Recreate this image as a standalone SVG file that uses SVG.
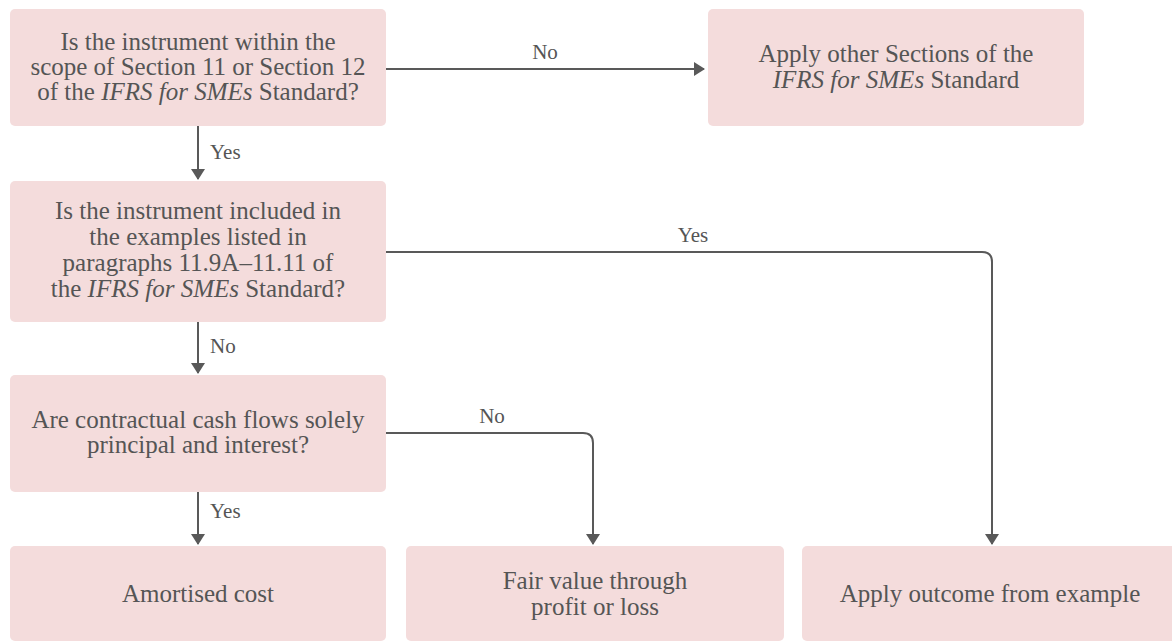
<svg xmlns="http://www.w3.org/2000/svg" width="1172" height="642" viewBox="0 0 1172 642">
<style>
.box{fill:#f4dcdc;}
.t{font-family:"Liberation Serif","Times New Roman",serif;font-size:25px;fill:#555555;text-anchor:middle;}
.i{font-style:italic;}
.lbl{font-family:"Liberation Serif","Times New Roman",serif;font-size:21px;fill:#555555;}
.c{fill:none;stroke:#595959;stroke-width:2;}
</style>
<defs>
<marker id="ah" viewBox="0 0 11 14" refX="10" refY="7" markerWidth="11" markerHeight="14" markerUnits="userSpaceOnUse" orient="auto">
<path d="M0,0 L11,7 L0,14 Z" fill="#595959"/>
</marker>
</defs>
<rect width="1172" height="642" fill="#ffffff"/>
<g id="n1">
<rect class="box" x="10" y="9" width="376" height="117" rx="5"/>
<text class="t" x="198" y="50">Is the instrument within the</text>
<text class="t" x="198" y="75">scope of Section 11 or Section 12</text>
<text class="t" x="198" y="100">of the <tspan class="i">IFRS for SMEs</tspan> Standard?</text>
</g>
<g id="n_other">
<rect class="box" x="708" y="9" width="376" height="117" rx="5"/>
<text class="t" x="896" y="62">Apply other Sections of the</text>
<text class="t" x="896" y="88"><tspan class="i">IFRS for SMEs</tspan> Standard</text>
</g>
<g id="n2">
<rect class="box" x="10" y="181" width="376" height="141" rx="5"/>
<text class="t" x="198" y="219">Is the instrument included in</text>
<text class="t" x="198" y="245">the examples listed in</text>
<text class="t" x="198" y="271">paragraphs 11.9A–11.11 of</text>
<text class="t" x="198" y="297">the <tspan class="i">IFRS for SMEs</tspan> Standard?</text>
</g>
<g id="n3">
<rect class="box" x="10" y="375" width="376" height="117" rx="5"/>
<text class="t" x="198" y="428">Are contractual cash flows solely</text>
<text class="t" x="198" y="453">principal and interest?</text>
</g>
<g id="n_amort">
<rect class="box" x="10" y="546" width="376" height="95" rx="5"/>
<text class="t" x="198" y="602">Amortised cost</text>
</g>
<g id="n_fv">
<rect class="box" x="406" y="546" width="378" height="95" rx="5"/>
<text class="t" x="595" y="589">Fair value through</text>
<text class="t" x="595" y="615">profit or loss</text>
</g>
<g id="n_apply">
<rect class="box" x="802" y="546" width="380" height="95" rx="5"/>
<text class="t" x="990" y="602">Apply outcome from example</text>
</g>
<g id="connectors">
<path class="c" d="M386,69 H704" marker-end="url(#ah)"/>
<text class="lbl" x="545" y="59" text-anchor="middle">No</text>
<path class="c" d="M198,126 V179" marker-end="url(#ah)"/>
<text class="lbl" x="210" y="159">Yes</text>
<path class="c" d="M198,322 V373" marker-end="url(#ah)"/>
<text class="lbl" x="210" y="353">No</text>
<path class="c" d="M386,252 H982 Q992,252 992,262 V544" marker-end="url(#ah)"/>
<text class="lbl" x="693" y="242" text-anchor="middle">Yes</text>
<path class="c" d="M386,433 H583 Q593,433 593,443 V544" marker-end="url(#ah)"/>
<text class="lbl" x="492" y="423" text-anchor="middle">No</text>
<path class="c" d="M198,492 V544" marker-end="url(#ah)"/>
<text class="lbl" x="210" y="518">Yes</text>
</g>
</svg>
